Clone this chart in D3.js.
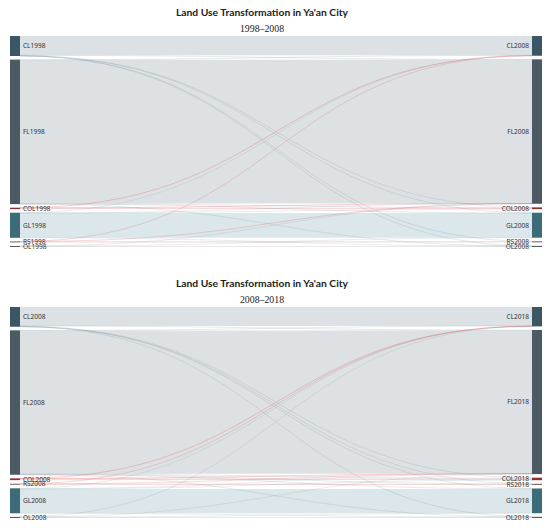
<!DOCTYPE html>
<html>
<head>
<meta charset="utf-8">
<script src="https://cdn.jsdelivr.net/npm/d3@7"></script>
<style>
  body { margin: 0; background: #fff; }
  text { font-family: "Noto Sans", sans-serif; }
</style>
</head>
<body>
<svg id="chart" width="550" height="528"></svg>
<script>
// land use classes and their colours
var categories = ["CL", "FL", "COL", "GL", "RS", "OL"]
var nodeColors = { CL: "#3b5766", FL: "#4c5a64", COL: "#8c2f2f", GL: "#3c6c78", RS: "#7a5a5a", OL: "#555b60" }
var linkColors = { CL: "#4a6b7a", FL: "#56687a", COL: "#e03b3b", GL: "#4d8594", RS: "#d45a5a", OL: "#777777" }

var title = "Land Use Transformation in Ya'an City"

// 1998 -> 2008 (km², estimated)
var years1 = ["1998", "2008"]
var order1 = ["CL", "FL", "COL", "GL", "RS", "OL"]
var links1 = [
  ["CL", "CL", 1480], ["CL", "FL", 20], ["CL", "COL", 15], ["CL", "GL", 10], ["CL", "RS", 5], ["CL", "OL", 5],
  ["FL", "CL", 20], ["FL", "FL", 11040], ["FL", "COL", 15], ["FL", "GL", 15], ["FL", "OL", 5],
  ["COL", "CL", 5], ["COL", "FL", 3], ["COL", "COL", 100],
  ["GL", "CL", 8], ["GL", "FL", 20], ["GL", "COL", 5], ["GL", "GL", 1890], ["GL", "OL", 3],
  ["RS", "CL", 3], ["RS", "FL", 3], ["RS", "RS", 70],
  ["OL", "FL", 3], ["OL", "GL", 3], ["OL", "OL", 72]
]

// 2008 -> 2018 (km², estimated)
var years2 = ["2008", "2018"]
var order2 = ["CL", "FL", "COL", "RS", "GL", "OL"]
var links2 = [
  ["CL", "CL", 1450], ["CL", "FL", 25], ["CL", "COL", 25], ["CL", "RS", 5], ["CL", "GL", 8], ["CL", "OL", 3],
  ["FL", "CL", 20], ["FL", "FL", 11000], ["FL", "COL", 30], ["FL", "RS", 8], ["FL", "GL", 25], ["FL", "OL", 6],
  ["COL", "CL", 3], ["COL", "FL", 2], ["COL", "COL", 130],
  ["RS", "CL", 2], ["RS", "FL", 3], ["RS", "RS", 70],
  ["GL", "CL", 10], ["GL", "FL", 30], ["GL", "COL", 8], ["GL", "GL", 1865], ["GL", "OL", 5],
  ["OL", "CL", 4], ["OL", "FL", 3], ["OL", "GL", 3], ["OL", "OL", 75]
]

var svg = d3.select("#chart")

function drawSankey(offsetY, order, years, links) {
  var g = svg.append("g").attr("transform", "translate(0," + offsetY + ")")
  var top = 36, bottom = 247, gap = 3.6
  var xLeft = 10, xRight = 532, nodeW = 10
  var cx = 262

  g.append("text")
    .attr("x", cx).attr("y", 15.5)
    .attr("text-anchor", "middle")
    .style("font-family", "Lato, sans-serif")
    .style("font-weight", "bold")
    .style("font-size", "10.3px")
    .attr("fill", "#222")
    .text(title)
  g.append("text")
    .attr("x", cx).attr("y", 32)
    .attr("text-anchor", "middle")
    .style("font-family", "'Liberation Serif', serif")
    .style("font-size", "9.8px")
    .attr("fill", "#222")
    .text(years[0] + "\u2013" + years[1])

  // node totals
  var outSum = {}, inSum = {}
  order.forEach(function(c) { outSum[c] = 0; inSum[c] = 0 })
  links.forEach(function(l) { outSum[l[0]] += l[2]; inSum[l[1]] += l[2] })

  var avail = bottom - top - gap * (order.length - 1)
  var total = Math.max(d3.sum(order, c => outSum[c]), d3.sum(order, c => inSum[c]))
  var h = d3.scaleLinear().domain([0, total]).range([0, avail])

  function column(sums, x, side) {
    var y = top
    return order.map(function(c, i) {
      var n = { cat: c, idx: i, side: side, x: x, y0: y, y1: y + h(sums[c]), name: c + years[side] }
      y = n.y1 + gap
      return n
    })
  }
  var left = column(outSum, xLeft, 0)
  var right = column(inSum, xRight, 1)
  var leftBy = {}, rightBy = {}
  left.forEach(n => leftBy[n.cat] = n)
  right.forEach(n => rightBy[n.cat] = n)

  var L = links.map(function(l) {
    return { s: leftBy[l[0]], t: rightBy[l[1]], value: l[2], w: h(l[2]) }
  })
  // stack links at both ends
  left.forEach(function(n) {
    var y = n.y0
    L.filter(d => d.s === n).sort((a, b) => a.t.idx - b.t.idx)
      .forEach(function(d) { d.ys = y + d.w / 2; y += d.w })
  })
  right.forEach(function(n) {
    var y = n.y0
    L.filter(d => d.t === n).sort((a, b) => a.s.idx - b.s.idx)
      .forEach(function(d) { d.yt = y + d.w / 2; y += d.w })
  })

  var linkPath = d3.linkHorizontal()
    .source(d => [xLeft + nodeW, d.ys])
    .target(d => [xRight, d.yt])

  g.append("g").selectAll("path")
    .data(L.sort((a, b) => b.w - a.w))
    .enter()
    .append("path")
      .attr("d", linkPath)
      .attr("fill", "none")
      .attr("stroke", d => linkColors[d.s.cat])
      .attr("stroke-opacity", function(d) {
        if (d.w >= 1) return 0.2
        return (d.s.cat == "COL" || d.s.cat == "RS") ? 0.3 : 0.18
      })
      .attr("stroke-width", d => Math.max(d.w, 0.8))

  var nodes = left.concat(right)
  g.append("g").selectAll("rect")
    .data(nodes)
    .enter()
    .append("rect")
      .attr("x", d => d.x)
      .attr("y", d => d.y0)
      .attr("width", nodeW)
      .attr("height", d => Math.max(d.y1 - d.y0, 1))
      .attr("fill", d => nodeColors[d.cat])

  g.append("g").selectAll("text")
    .data(nodes)
    .enter()
    .append("text")
      .attr("x", d => d.side == 0 ? d.x + nodeW + 3 : d.x - 3)
      .attr("y", d => (d.y0 + d.y1) / 2)
      .attr("dy", "0.35em")
      .attr("text-anchor", d => d.side == 0 ? "start" : "end")
      .style("font-size", "6.5px")
      .attr("fill", "#333")
      .text(d => d.name)
}

drawSankey(0, order1, years1, links1)
drawSankey(271, order2, years2, links2)
</script>
</body>
</html>
